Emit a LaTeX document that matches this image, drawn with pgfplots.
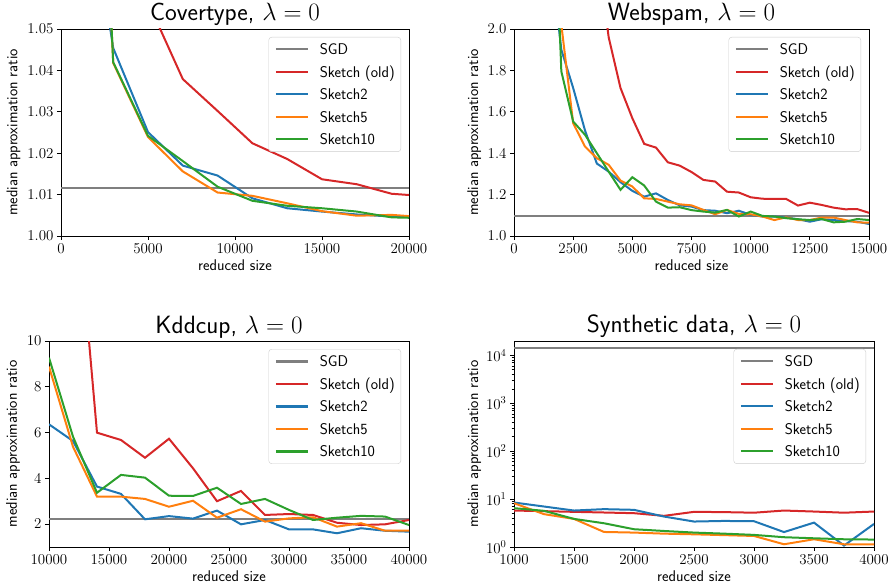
\RequirePackage{fix-cm}
\documentclass[border=0pt]{standalone}
\usepackage{pgfplots}
\pgfplotsset{compat=1.18}
\definecolor{tabblue}{HTML}{1F77B4}
\definecolor{taborange}{HTML}{FF7F0E}
\definecolor{tabgreen}{HTML}{2CA02C}
\definecolor{tabred}{HTML}{D62728}
\definecolor{tabgray}{HTML}{7F7F7F}
\pgfplotsset{
  myax/.style={
    scale only axis,
    axis line style={line width=0.7pt},
    tick align=outside, tick pos=left,
    major tick length=4pt, minor tick length=2.5pt,
    tick style={black, line width=0.7pt},
    tick label style={font=\fontsize{15}{18}\selectfont},
    label style={font=\sffamily\fontsize{15.5}{18}\selectfont},
    title style={font=\sffamily\fontsize{25}{29}\selectfont, at={([yshift=2pt]axis description cs:0.5,1)}, anchor=base},
    xlabel style={at={([yshift=-34.7pt]axis description cs:0.5,0)}, anchor=base},
    scaled ticks=false,
    /pgf/number format/1000 sep={},
    legend cell align=left,
    legend style={at={(1,1)}, anchor=north east, xshift=-8pt, yshift=-8pt,
      draw=black!20, rounded corners=3pt, fill=white,
      fill opacity=0.8, text opacity=1, draw opacity=1,
      font=\sffamily\fontsize{15.5}{18}\selectfont,
      inner xsep=6pt, inner ysep=6pt, row sep=10pt,
      nodes={inner sep=0pt, text height=11.5pt, text depth=1pt},
      /tikz/every odd column/.append style={column sep=11pt}},
    legend image code/.code={\draw[#1, line width=2.1pt] (0pt,0pt) -- (32pt,0pt);},
    every axis plot post/.append style={line width=2pt},
  },
}
\begin{document}
\begin{tikzpicture}
\path[use as bounding box] (0,0) rectangle (890pt,585pt);

% ---------------- Covertype
\begin{axis}[myax, at={(61pt,349pt)}, anchor=south west, width=348pt, height=207pt,
  xmin=0, xmax=20000, ymin=1.0, ymax=1.05,
  xtick={0,5000,10000,15000,20000},
  ytick={1.00,1.01,1.02,1.03,1.04,1.05},
  yticklabel style={/pgf/number format/.cd, fixed, fixed zerofill, precision=2},
  title={Covertype, $\lambda=0$},
  xlabel={reduced size}, ylabel={median approximation ratio},
  ylabel style={at={([xshift=-43.5pt]axis description cs:0,0.5)}, anchor=base}]
\addplot[tabgray] coordinates {(0,1.0117) (20000,1.0117)};
\addlegendentry{SGD}
\addplot[tabred] coordinates {(1000,1.3) (3000,1.1) (5000,1.0565) (7000,1.0379) (9000,1.0302) (11000,1.0224) (13000,1.0186) (15000,1.0137) (17000,1.0125) (19000,1.0102) (20000,1.0099)};
\addlegendentry{Sketch (old)}
\addplot[tabblue] coordinates {(1000,1.10) (3000,1.0454) (5000,1.0251) (7000,1.0170) (9000,1.0146) (11000,1.0091) (13000,1.0067) (15000,1.0059) (17000,1.0052) (19000,1.0047) (20000,1.0047)};
\addlegendentry{Sketch2}
\addplot[taborange] coordinates {(1000,1.22) (3000,1.0418) (5000,1.0239) (7000,1.0156) (9000,1.0105) (11000,1.0097) (13000,1.0079) (15000,1.0060) (17000,1.0049) (19000,1.0051) (20000,1.0048)};
\addlegendentry{Sketch5}
\addplot[tabgreen] coordinates {(1000,1.22) (3000,1.0420) (5000,1.0242) (7000,1.0181) (9000,1.0119) (11000,1.0085) (13000,1.0073) (15000,1.0067) (17000,1.0059) (19000,1.0045) (20000,1.0044)};
\addlegendentry{Sketch10}
\end{axis}

% ---------------- Webspam
\begin{axis}[myax, at={(514pt,349pt)}, anchor=south west, width=355pt, height=207pt,
  xmin=0, xmax=15000, ymin=1.0, ymax=2.0,
  xtick={0,2500,5000,7500,10000,12500,15000},
  ytick={1.0,1.2,1.4,1.6,1.8,2.0},
  yticklabel style={/pgf/number format/.cd, fixed, fixed zerofill, precision=1},
  title={Webspam, $\lambda=0$},
  xlabel={reduced size}, ylabel={median approximation ratio},
  ylabel style={at={([xshift=-36pt]axis description cs:0,0.5)}, anchor=base}]
\addplot[tabgray] coordinates {(0,1.097) (15000,1.097)};
\addlegendentry{SGD}
\addplot[tabred] coordinates {(3000,3.0) (3500,2.4) (4000,1.96) (4500,1.715) (5000,1.569) (5500,1.445) (6000,1.427) (6500,1.356) (7000,1.340) (7500,1.309) (8000,1.271) (8500,1.263) (9000,1.214) (9500,1.210) (10000,1.187) (10500,1.180) (11000,1.179) (11500,1.179) (12000,1.147) (12500,1.161) (13000,1.150) (13500,1.137) (14000,1.129) (14500,1.130) (15000,1.112)};
\addlegendentry{Sketch (old)}
\addplot[tabblue] coordinates {(1500,2.4) (2000,1.90) (2500,1.715) (3000,1.51) (3500,1.35) (4000,1.311) (4500,1.26) (5000,1.218) (5500,1.19) (6000,1.206) (6500,1.174) (7000,1.148) (7500,1.142) (8000,1.125) (8500,1.122) (9000,1.110) (9500,1.122) (10000,1.102) (10500,1.094) (11000,1.094) (11500,1.089) (12000,1.081) (12500,1.069) (13000,1.081) (13500,1.077) (14000,1.072) (14500,1.069) (15000,1.058)};
\addlegendentry{Sketch2}
\addplot[taborange] coordinates {(1500,2.6) (2000,2.02) (2500,1.545) (3000,1.432) (3500,1.376) (4000,1.344) (4500,1.268) (5000,1.239) (5500,1.182) (6000,1.179) (6500,1.166) (7000,1.153) (7500,1.148) (8000,1.126) (8500,1.105) (9000,1.126) (9500,1.107) (10000,1.105) (10500,1.094) (11000,1.077) (11500,1.090) (12000,1.077) (12500,1.077) (13000,1.089) (13500,1.089) (14000,1.077) (14500,1.066) (15000,1.064)};
\addlegendentry{Sketch5}
\addplot[tabgreen] coordinates {(1500,3.26) (2000,1.795) (2500,1.553) (3000,1.489) (3500,1.40) (4000,1.311) (4500,1.223) (5000,1.284) (5500,1.244) (6000,1.166) (6500,1.137) (7000,1.139) (7500,1.125) (8000,1.118) (8500,1.113) (9000,1.126) (9500,1.094) (10000,1.118) (10500,1.097) (11000,1.094) (11500,1.086) (12000,1.081) (12500,1.077) (13000,1.082) (13500,1.066) (14000,1.069) (14500,1.082) (15000,1.077)};
\addlegendentry{Sketch10}
\end{axis}

% ---------------- Kddcup
\begin{axis}[myax, at={(49pt,38pt)}, anchor=south west, width=360pt, height=206pt,
  xmin=10000, xmax=40000, ymin=1, ymax=10,
  xtick={10000,15000,20000,25000,30000,35000,40000},
  ytick={2,4,6,8,10},
  title={Kddcup, $\lambda=0$},
  xlabel={reduced size}, ylabel={median approximation ratio},
  ylabel style={at={([xshift=-32pt]axis description cs:0,0.5)}, anchor=base}]
\addplot[tabgray] coordinates {(10000,2.24) (40000,2.24)};
\addlegendentry{SGD}
\addplot[tabred] coordinates {(10000,30) (12000,18) (14000,5.995) (16000,5.675) (18000,4.90) (20000,5.73) (22000,4.44) (24000,3.0) (26000,3.45) (28000,2.40) (30000,2.44) (32000,2.40) (34000,2.06) (36000,1.96) (38000,1.99) (40000,2.18)};
\addlegendentry{Sketch (old)}
\addplot[tabblue] coordinates {(10000,6.36) (12000,5.63) (14000,3.64) (16000,3.32) (18000,2.21) (20000,2.35) (22000,2.24) (24000,2.59) (26000,1.99) (28000,2.18) (30000,1.77) (32000,1.77) (34000,1.60) (36000,1.82) (38000,1.71) (40000,1.67)};
\addlegendentry{Sketch2}
\addplot[taborange] coordinates {(10000,8.88) (12000,5.38) (14000,3.20) (16000,3.20) (18000,3.10) (20000,2.76) (22000,3.02) (24000,2.28) (26000,2.65) (28000,2.11) (30000,2.25) (32000,2.30) (34000,1.89) (36000,2.04) (38000,1.71) (40000,1.71)};
\addlegendentry{Sketch5}
\addplot[tabgreen] coordinates {(10000,9.27) (12000,5.82) (14000,3.37) (16000,4.15) (18000,4.03) (20000,3.24) (22000,3.23) (24000,3.59) (26000,2.88) (28000,3.10) (30000,2.62) (32000,2.18) (34000,2.28) (36000,2.36) (38000,2.33) (40000,1.96)};
\addlegendentry{Sketch10}
\end{axis}

% ---------------- Synthetic
\begin{axis}[myax, at={(514pt,38pt)}, anchor=south west, width=360pt, height=206pt,
  xmin=1000, xmax=4000, ymode=log, ymin=1, ymax=20000,
  xtick={1000,1500,2000,2500,3000,3500,4000},
  ytick={1,10,100,1000,10000},
  title={Synthetic data, $\lambda=0$},
  xlabel={reduced size}, ylabel={median approximation ratio},
  ylabel style={at={([xshift=-36pt]axis description cs:0,0.5)}, anchor=base}]
\addplot[tabgray] coordinates {(1000,14000) (4000,14000)};
\addlegendentry{SGD}
\addplot[tabred] coordinates {(1000,5.77) (1250,5.6) (1500,5.42) (1750,5.25) (2000,5.08) (2250,4.47) (2500,5.42) (2750,5.35) (3000,5.2) (3250,5.77) (3500,5.5) (3750,5.2) (4000,5.5)};
\addlegendentry{Sketch (old)}
\addplot[tabblue] coordinates {(1000,8.49) (1250,7.0) (1500,5.77) (1750,6.17) (2000,5.97) (2250,4.32) (2500,3.40) (2750,3.5) (3000,3.45) (3250,2.05) (3500,3.23) (3750,1.07) (4000,3.03)};
\addlegendentry{Sketch2}
\addplot[taborange] coordinates {(1000,8.2) (1250,4.85) (1500,3.86) (1750,2.06) (2000,2.0) (2250,1.9) (2500,1.84) (2750,1.77) (3000,1.70) (3250,1.14) (3500,1.45) (3750,1.14) (4000,1.14)};
\addlegendentry{Sketch5}
\addplot[tabgreen] coordinates {(1000,6.47) (1250,5.69) (1500,3.86) (1750,3.13) (2000,2.35) (2250,2.16) (2500,2.0) (2750,1.9) (3000,1.79) (3250,1.6) (3500,1.52) (3750,1.45) (4000,1.43)};
\addlegendentry{Sketch10}
\end{axis}
\end{tikzpicture}
\end{document}
